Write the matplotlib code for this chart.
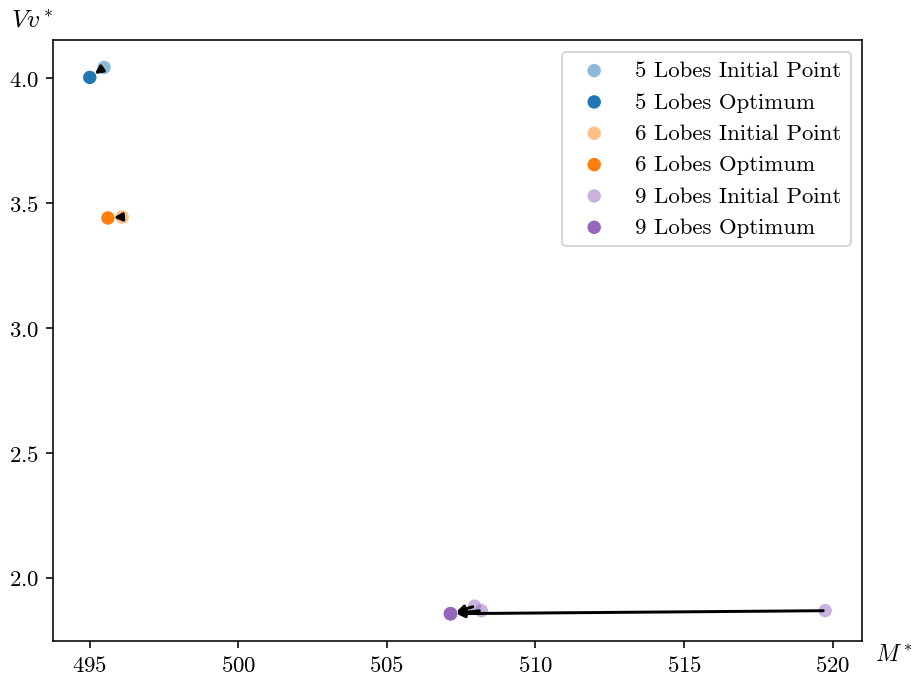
import matplotlib
matplotlib.use("Agg")
import matplotlib.pyplot as plt

plt.rcParams['font.family'] = 'serif'
plt.rcParams['font.serif'] = ['cmr10']
plt.rcParams['mathtext.fontset'] = 'cm'
plt.rcParams['axes.formatter.use_mathtext'] = True
plt.rcParams['font.size'] = 11.5

# data
lobes = [5, 6, 9]
colors = ['tab:blue', 'tab:orange', 'tab:purple']
init_m = [[495.48], [496.09], [507.95, 508.18, 519.75]]
init_v = [[4.044], [3.445], [1.886, 1.868, 1.868]]
opt_m = [[495.0], [495.61], [507.14, 507.14, 507.14]]
opt_v = [[4.004], [3.441], [1.856, 1.856, 1.856]]

fig = plt.figure(figsize=(6.4, 4.78), dpi=142.65)
ax = fig.add_axes([53 / 913, 1 - 642 / 682, 809 / 913, 601 / 682])

for n, c, im, iv, om, ov in zip(lobes, colors, init_m, init_v, opt_m, opt_v):
    ax.scatter(im, iv, s=46, color=c, alpha=0.5, edgecolors='none', label=f'{n} Lobes Initial Point')
    ax.scatter(om, ov, s=46, color=c, edgecolors='none', label=f'{n} Lobes Optimum')

for im, iv, om, ov in zip(init_m, init_v, opt_m, opt_v):
    for x0, y0, x1, y1 in zip(im, iv, om, ov):
        ax.annotate('', xy=(x1, y1), xytext=(x0, y0),
                    arrowprops=dict(arrowstyle='-|>', color='k', lw=1.5,
                                    mutation_scale=8, shrinkA=1, shrinkB=3))

ax.set_xticks([495, 500, 505, 510, 515, 520])
ax.set_yticks([2.0, 2.5, 3.0, 3.5, 4.0])
ax.tick_params(labelsize=11.5)
ax.text(0.0, 1.014, '$Vv^*$', transform=ax.transAxes, ha='right', va='bottom', fontsize=13)
ax.text(1.016, -0.004, '$M^*$', transform=ax.transAxes, ha='left', va='top', fontsize=12)
ax.legend(loc='upper right')

fig.savefig('out.png')
